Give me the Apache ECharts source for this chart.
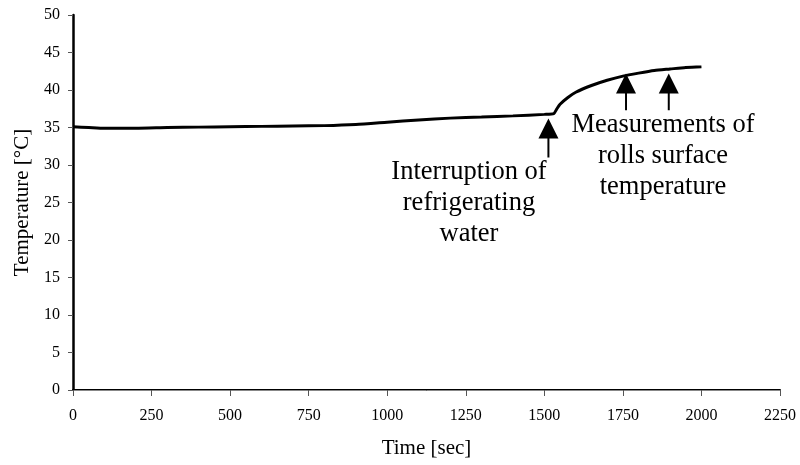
<!DOCTYPE html>
<html>
<head>
<meta charset="utf-8">
<script src="https://cdn.jsdelivr.net/npm/echarts@6/dist/echarts.min.js"></script>
<style>html,body{margin:0;padding:0;background:#fff;}#c{width:800px;height:465px;}</style>
</head>
<body>
<div id="c"></div>
<script>
const times = [0, 50, 100, 200, 300, 400, 500, 600, 700, 800, 900, 1000, 1100, 1200, 1300, 1400, 1500, 1530, 1540, 1550, 1575, 1600, 1650, 1700, 1750, 1800, 1850, 1900, 1950, 2000];
const temps = [35.1, 35.0, 34.9, 34.9, 35.0, 35.05, 35.1, 35.15, 35.2, 35.25, 35.4, 35.7, 36.0, 36.25, 36.4, 36.55, 36.75, 36.85, 37.5, 38.1, 39.0, 39.7, 40.6, 41.3, 41.85, 42.25, 42.6, 42.8, 43.0, 43.1];
const arrowTimes = [1513, 1760, 1896];
const arrowTipTemps = [36.2, 42.2, 42.2];
const arrowTailTemps = [31.0, 37.3, 37.3];
const note1 = 'Interruption of\nrefrigerating\nwater';
const note2 = 'Measurements of\nrolls surface\ntemperature';
const xName = 'Time [sec]';
const yName = 'Temperature [°C]';

const font = '"Liberation Serif", "Times New Roman", serif';
const chart = echarts.init(document.getElementById('c'));
chart.setOption({
  animation: false,
  backgroundColor: '#fff',
  grid: { left: 73, right: 20, top: 15, bottom: 75, containLabel: false },
  xAxis: [{
    type: 'value', min: 0, max: 2250, interval: 250,
    name: xName, nameLocation: 'middle', nameGap: 48,
    nameTextStyle: { fontFamily: font, fontSize: 21, color: '#000' },
    axisLine: { show: true, onZero: false, lineStyle: { color: '#000', width: 2 } },
    axisTick: { show: true, length: 6, lineStyle: { color: '#555', width: 1 } },
    axisLabel: { fontFamily: font, fontSize: 16, color: '#000', margin: 18, formatter: v => String(v) },
    splitLine: { show: false }
  }, {
    type: 'value', position: 'top', min: 0, max: 2250,
    axisLine: { show: true, lineStyle: { color: '#888', width: 1 } },
    axisTick: { show: false }, axisLabel: { show: false }, splitLine: { show: false }
  }],
  yAxis: [{
    type: 'value', min: 0, max: 50, interval: 5,
    name: yName, nameLocation: 'middle', nameGap: 40,
    nameTextStyle: { fontFamily: font, fontSize: 21, color: '#000' },
    axisLine: { show: true, onZero: false, lineStyle: { color: '#000', width: 2.5 } },
    axisTick: { show: true, length: 5, lineStyle: { color: '#555', width: 1 } },
    axisLabel: { fontFamily: font, fontSize: 16, color: '#000', margin: 13, formatter: v => String(v) },
    splitLine: { show: false }
  }, {
    type: 'value', position: 'right', min: 0, max: 50,
    axisLine: { show: true, lineStyle: { color: '#000', width: 1 } },
    axisTick: { show: false }, axisLabel: { show: false }, splitLine: { show: false }
  }],
  series: [{
    type: 'line',
    data: times.map((t, i) => [t, temps[i]]),
    showSymbol: false,
    smooth: 0.2,
    lineStyle: { color: '#000', width: 3 },
    z: 3
  }, {
    type: 'custom',
    data: arrowTimes.map((t, i) => [t, arrowTipTemps[i], arrowTailTemps[i]]),
    renderItem: function (params, api) {
      const tip = api.coord([api.value(0), api.value(1)]);
      const tail = api.coord([api.value(0), api.value(2)]);
      return {
        type: 'group',
        children: [
          { type: 'polygon', shape: { points: [[tip[0], tip[1]], [tip[0] - 10, tip[1] + 20], [tip[0] + 10, tip[1] + 20]] }, style: { fill: '#000' } },
          { type: 'line', shape: { x1: tip[0], y1: tip[1] + 19, x2: tail[0], y2: tail[1] }, style: { stroke: '#000', lineWidth: 2 } }
        ]
      };
    },
    z: 4
  }],
  graphic: [
    { type: 'text', x: 469, y: 157, style: { text: note1, fontFamily: font, fontSize: 26.5, lineHeight: 31, fill: '#000', align: 'center', verticalAlign: 'top' } },
    { type: 'text', x: 663, y: 110, style: { text: note2, fontFamily: font, fontSize: 26.5, lineHeight: 31, fill: '#000', align: 'center', verticalAlign: 'top' } }
  ]
});
</script>
</body>
</html>
